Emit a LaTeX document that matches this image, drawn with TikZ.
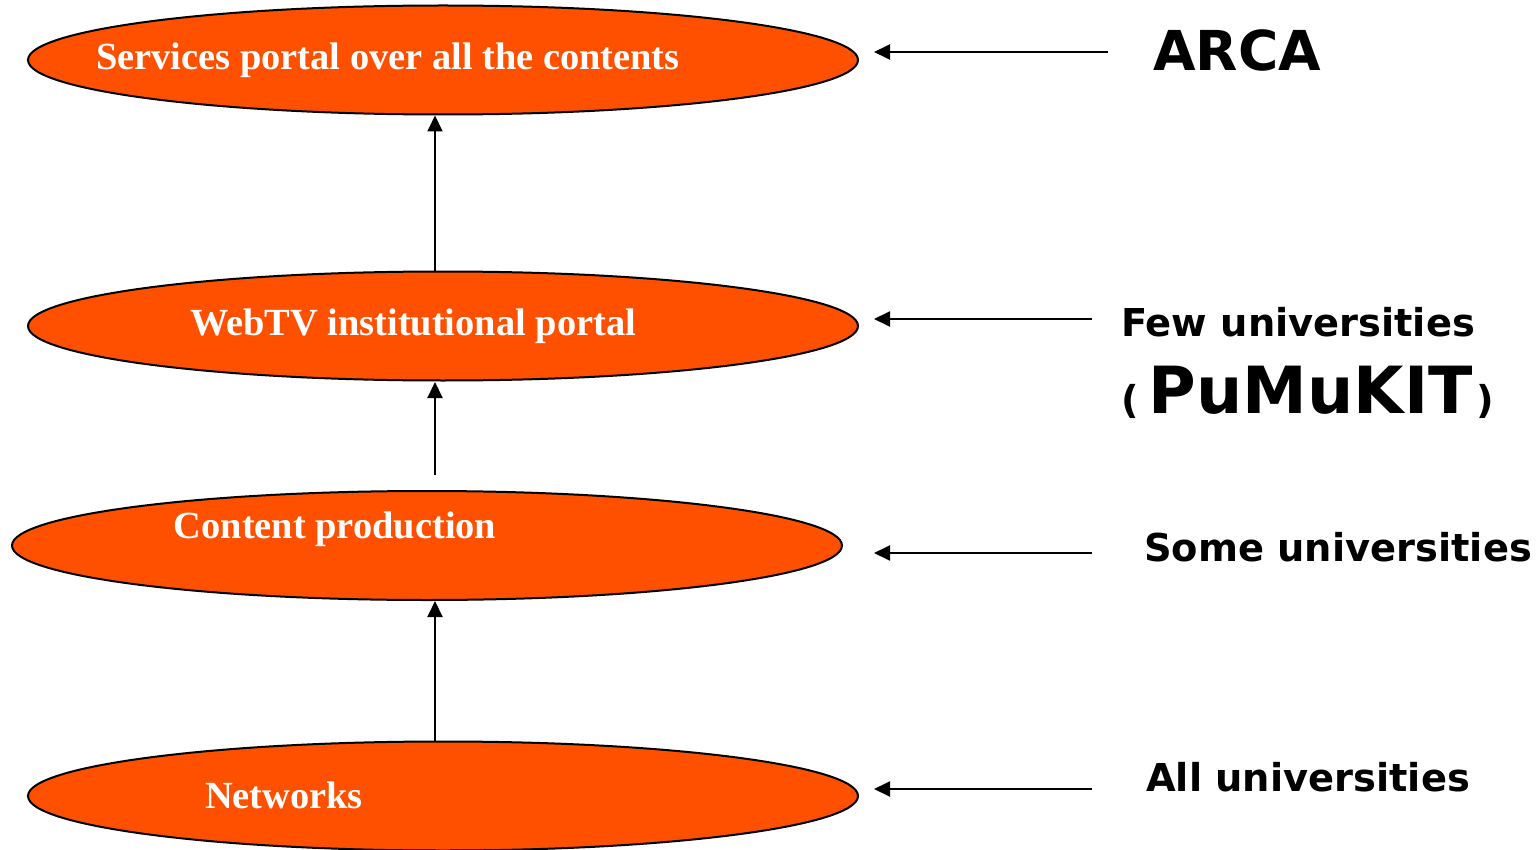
\documentclass[tikz,border=0pt]{standalone}
\usepackage{fontspec}
\setmainfont{Liberation Serif}
\newfontfamily\dejavu{DejaVu Sans}
\usetikzlibrary{shapes.geometric,arrows.meta}
\definecolor{orng}{RGB}{255,80,0}
\begin{document}
\begin{tikzpicture}[x=1pt,y=-1pt,
  layer/.style={ellipse,draw=black,line width=2pt,fill=orng,minimum width=830pt,minimum height=109pt,inner sep=0pt},
  ltext/.style={text=white,font=\fontsize{38.4}{42}\selectfont\bfseries,inner sep=0pt},
  rtext/.style={font=\dejavu\bfseries\fontsize{38.4}{42}\selectfont,anchor=west,inner sep=0pt},
  conn/.style={line width=2pt,-{Triangle[length=16pt,width=15pt]}}]
\useasboundingbox (0,0) rectangle (1538,850);
\node[layer] (e1) at (443,60) {};
\node[layer] (e2) at (443,326) {};
\node[layer] (e3) at (427,545.5) {};
\node[layer] (e4) at (443,796) {};
\node[ltext] (t1) at (388,60) {Services portal over all the contents};
\node[ltext] (t2) at (413,326) {WebTV institutional portal};
\node[ltext] (t3) at (335,529) {Content production};
\node[ltext] (t4) at (284,795) {Networks};
% vertical arrows
\coordinate (v2s) at (435,475);
\draw[conn] (e2.north -| 435,0) -- (e1.south -| 435,0);
\draw[conn] (v2s) -- (435,382) coordinate (v2e);
\draw[conn] (e4.north -| 435,0) -- (e3.south -| 435,0);
% horizontal arrows
\coordinate (h1s) at (1108,52); \coordinate (h1e) at (874,52);
\coordinate (h2s) at (1092,319); \coordinate (h2e) at (874,319);
\coordinate (h3s) at (1092,553); \coordinate (h3e) at (874,553);
\coordinate (h4s) at (1092,789); \coordinate (h4e) at (874,789);
\draw[conn] (h1s) -- (h1e);
\draw[conn] (h2s) -- (h2e);
\draw[conn] (h3s) -- (h3e);
\draw[conn] (h4s) -- (h4e);
% right labels
\node[rtext,font=\dejavu\bfseries\fontsize{55}{60}\selectfont] (r1) at (1153,50) {ARCA};
\node[rtext] (r2) at (1121,322) {Few universities};
\node[rtext,anchor=base west] (r3) at (1121,413) {(\hspace{10pt}\fontsize{65}{70}\selectfont PuMuKIT\fontsize{38.4}{42}\selectfont\hspace{4pt})};
\node[rtext] (r4) at (1144,547) {Some universities};
\node[rtext] (r5) at (1146,777) {All universities};
\end{tikzpicture}
\end{document}
